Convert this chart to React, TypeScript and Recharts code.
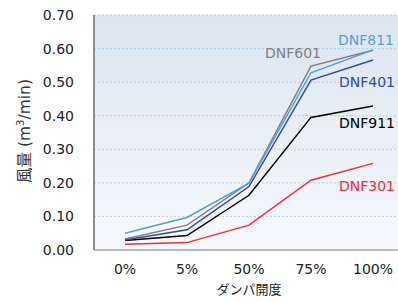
import { CartesianGrid, LabelList, Line, LineChart, XAxis, YAxis } from 'recharts'

const categories = ['0%', '5%', '50%', '75%', '100%']
const dnf811 = [0.05, 0.097, 0.199, 0.528, 0.596]
const dnf601 = [0.033, 0.074, 0.2, 0.548, 0.595]
const dnf401 = [0.03, 0.06, 0.189, 0.506, 0.566]
const dnf911 = [0.028, 0.043, 0.163, 0.395, 0.429]
const dnf301 = [0.017, 0.022, 0.074, 0.208, 0.258]
const yTicks = [0, 0.1, 0.2, 0.3, 0.4, 0.5, 0.6, 0.7]

const FONT = '"DejaVu Sans", "Noto Sans CJK JP", sans-serif'

const data = categories.map((c, i) => ({
  cat: c,
  DNF811: dnf811[i],
  DNF601: dnf601[i],
  DNF401: dnf401[i],
  DNF911: dnf911[i],
  DNF301: dnf301[i],
}))

// 系列名ラベル（指定した点の近くに1つだけ描く）
function seriesLabel(name: string, color: string, index: number, dx: number, dy: number, anchor: 'start' | 'middle' | 'end') {
  return (props: any) => {
    if (props.index !== index) return null
    return (
      <text
        x={props.x + dx}
        y={props.y + dy}
        fill={color}
        fontSize={14}
        fontFamily={FONT}
        textAnchor={anchor}
        dominantBaseline="central"
      >
        {name}
      </text>
    )
  }
}

function YTitle(props: any) {
  const vb = props.viewBox
  const cx = 25
  const cy = vb.y + vb.height / 2 - 1.5
  return (
    <text
      x={cx}
      y={cy}
      transform={`rotate(-90 ${cx} ${cy})`}
      textAnchor="middle"
      dominantBaseline="central"
      fontSize={15.5}
      fontFamily={FONT}
      fill="#333"
    >
      風量 (m<tspan dy={-5} fontSize={10}>3</tspan><tspan dy={5}>/min)</tspan>
    </text>
  )
}

export default function App() {
  return (
    <div style={{ position: 'absolute', left: 0, top: 0, width: 398, height: 302, overflow: 'hidden', background: '#fff' }}>
      <LineChart width={404} height={302} data={data} margin={{ top: 15, right: 0, left: 0, bottom: 0 }}>
        <defs>
          <linearGradient id="plotBg" x1="0" y1="0" x2="0" y2="1">
            <stop offset="0%" stopColor="#DAE5F1" />
            <stop offset="100%" stopColor="#F7F9FD" />
          </linearGradient>
        </defs>
        <CartesianGrid vertical={false} fill="url(#plotBg)" stroke="#B4CFEA" strokeDasharray="2 2" />
        <XAxis
          dataKey="cat"
          padding={{ left: 31, right: 31 }}
          height={52}
          tickSize={0}
          tickMargin={14}
          axisLine={{ stroke: '#A6A6A6', strokeWidth: 1.5 }}
          tick={{ fontSize: 14, fill: '#222', fontFamily: FONT }}
          label={{ value: 'ダンパ開度', position: 'insideBottom', offset: 8, fontSize: 13, fill: '#222', fontFamily: FONT }}
        />
        <YAxis
          domain={[0, 0.7]}
          ticks={yTicks}
          width={94}
          tickSize={0}
          tickMargin={20}
          interval={0}
          tickFormatter={(v: number) => v.toFixed(2)}
          axisLine={{ stroke: '#8C8C8C', strokeWidth: 2 }}
          tick={{ fontSize: 14, fill: '#222', fontFamily: FONT }}
          label={<YTitle />}
        />
        <Line dataKey="DNF301" stroke="#FF2A2A" strokeWidth={1.5} dot={false} isAnimationActive={false}>
          <LabelList content={seriesLabel('DNF301', '#FF2A2A', 4, 22, 23, 'end')} />
        </Line>
        <Line dataKey="DNF911" stroke="#000000" strokeWidth={1.5} dot={false} isAnimationActive={false}>
          <LabelList content={seriesLabel('DNF911', '#000000', 4, 22, 17, 'end')} />
        </Line>
        <Line dataKey="DNF601" stroke="#808080" strokeWidth={1.5} dot={false} isAnimationActive={false}>
          <LabelList content={seriesLabel('DNF601', '#808080', 3, -18, -13, 'middle')} />
        </Line>
        <Line dataKey="DNF401" stroke="#3349AE" strokeWidth={1.5} dot={false} isAnimationActive={false}>
          <LabelList content={seriesLabel('DNF401', '#3349AE', 4, 22, 22, 'end')} />
        </Line>
        <Line dataKey="DNF811" stroke="#5B9BD5" strokeWidth={1.5} dot={false} isAnimationActive={false}>
          <LabelList content={seriesLabel('DNF811', '#5B9BD5', 4, 21, -10, 'end')} />
        </Line>
      </LineChart>
    </div>
  )
}
